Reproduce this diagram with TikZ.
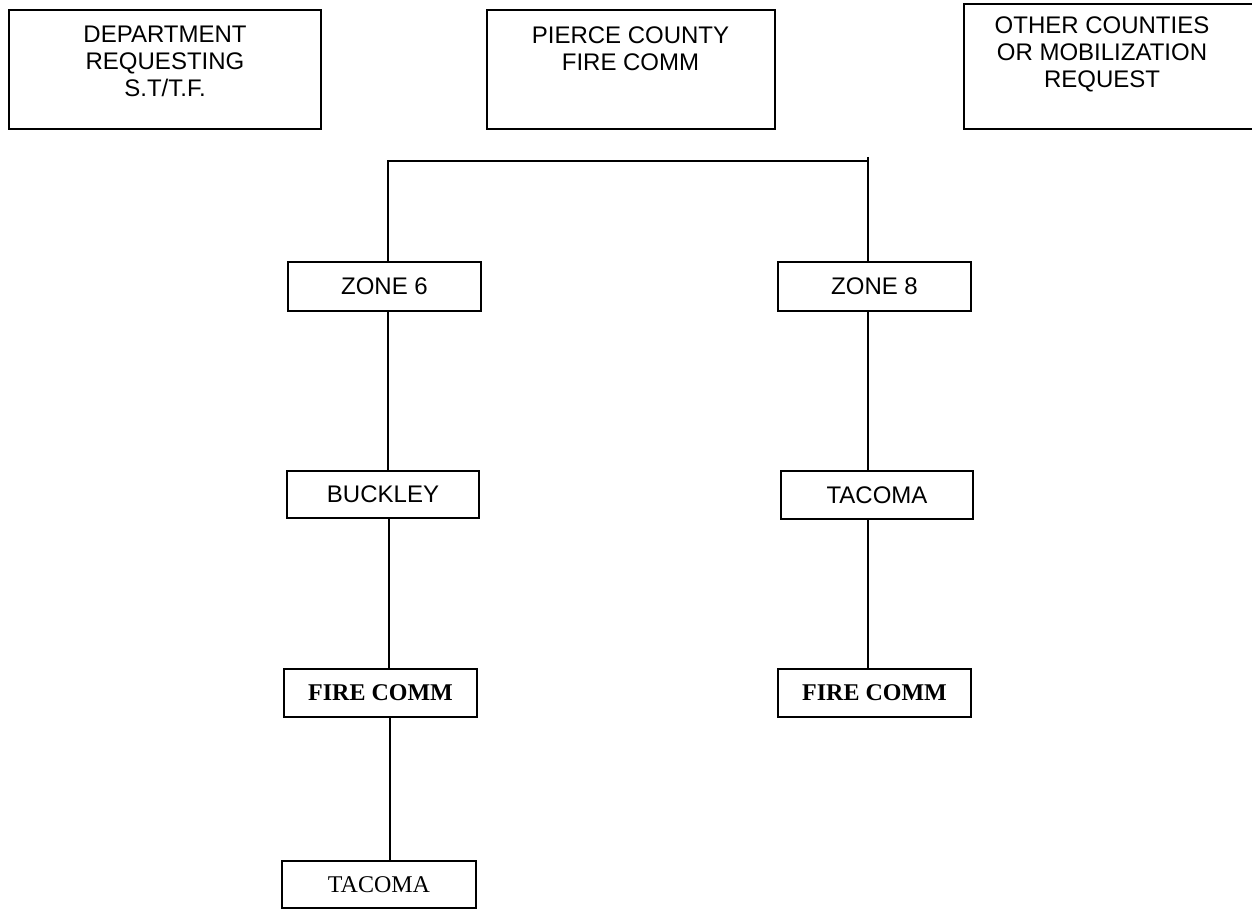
\documentclass[tikz,border=0pt]{standalone}
\usepackage{fontspec}
\setmainfont{Liberation Serif}
\newfontfamily\arialf{Liberation Sans}
\newfontfamily\timesf{Liberation Serif}
\begin{document}
\begin{tikzpicture}[x=0.5pt,y=-0.5pt,
  boxst/.style={draw, line width=0.65pt, inner sep=0pt},
  sanst/.style={font=\arialf\fontsize{12pt}{13.5pt}\selectfont, align=center, inner sep=0pt},
  serifbold/.style={font=\timesf\bfseries\fontsize{12pt}{13.5pt}\selectfont, inner sep=0pt},
  serifreg/.style={font=\timesf\fontsize{12pt}{13.5pt}\selectfont, inner sep=0pt},
  conn/.style={line width=0.65pt}]
\useasboundingbox (0,0) rectangle (1252,909);
% top boxes
\node[boxst, minimum width=156pt, minimum height=59.5pt] (dept) at (165,69.5) {};
\node[sanst] (deptt) at (165,61) {DEPARTMENT\\REQUESTING\\S.T/T.F.};
\node[boxst, minimum width=144pt, minimum height=59.5pt] (pierce) at (631,69.5) {};
\node[sanst] (piercet) at (630.5,49) {PIERCE COUNTY\\FIRE COMM};
\node[boxst, minimum width=165pt, minimum height=62.5pt] (other) at (1129,66.5) {};
\node[sanst] (othert) at (1102,54) {OTHER COUNTIES\\OR MOBILIZATION\\REQUEST};
% chain boxes
\node[boxst, sanst, draw, minimum width=96.5pt, minimum height=24.5pt] (zone6) at (384.5,286.5) {ZONE 6};
\node[boxst, sanst, draw, minimum width=96.5pt, minimum height=24.5pt] (zone8) at (874.5,286.5) {ZONE 8};
\node[boxst, sanst, draw, minimum width=96pt, minimum height=23.5pt] (buckley) at (383,494.5) {BUCKLEY};
\node[boxst, sanst, draw, minimum width=96pt, minimum height=24pt] (tacomar) at (877,495) {TACOMA};
\node[boxst, serifbold, draw, minimum width=96.5pt, minimum height=24pt] (firel) at (380.5,693) {FIRE COMM};
\node[boxst, serifbold, draw, minimum width=96.5pt, minimum height=24pt] (firer) at (874.5,693) {FIRE COMM};
\node[boxst, serifreg, draw, minimum width=97pt, minimum height=23.5pt] (tacomab) at (379,884.5) {TACOMA};
% connectors
\coordinate (jl) at (388,161);
\coordinate (jr) at (868,161);
\coordinate (jrt) at (868,157);
\coordinate (c2) at (389,0);
\coordinate (c3) at (390,0);
\draw[conn] (zone6.north -| jl) -- (jl) -- (jr);
\draw[conn] (jrt) -- (zone8.north -| jrt);
\draw[conn] (zone6.south -| jl) -- (buckley.north -| jl);
\draw[conn] (buckley.south -| c2) -- (firel.north -| c2);
\draw[conn] (firel.south -| c3) -- (tacomab.north -| c3);
\draw[conn] (zone8.south -| jr) -- (tacomar.north -| jr);
\draw[conn] (tacomar.south -| jr) -- (firer.north -| jr);
\end{tikzpicture}
\end{document}
